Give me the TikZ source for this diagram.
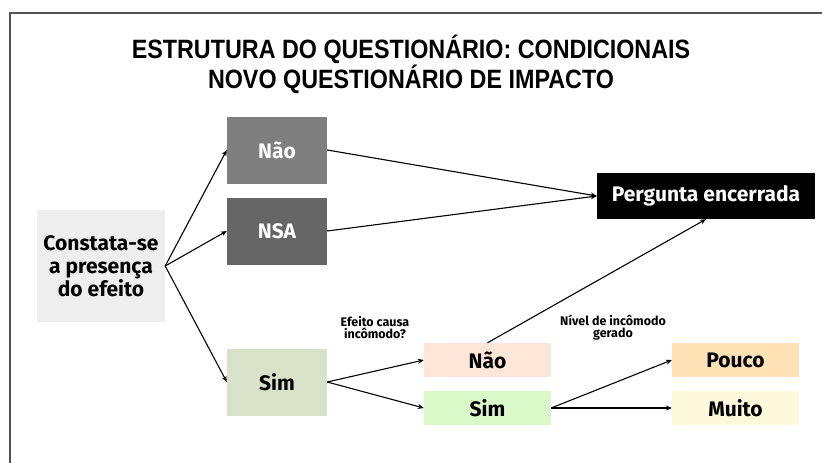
\documentclass[tikz,border=0pt]{standalone}
\usepackage{fontspec}
\setmainfont{Fira Sans}
\newfontfamily\titlefont[FakeStretch=0.88]{Liberation Sans}
\usetikzlibrary{arrows.meta,positioning}
\definecolor{FrameGray}{RGB}{85,85,85}
\definecolor{BoxGray}{RGB}{238,238,238}
\definecolor{NaoGray}{RGB}{127,127,127}
\definecolor{NsaGray}{RGB}{102,102,102}
\definecolor{SimOlive}{RGB}{216,226,200}
\definecolor{NaoPeach}{RGB}{253,230,216}
\definecolor{SimGreen}{RGB}{217,250,200}
\definecolor{PoucoOrange}{RGB}{254,226,180}
\definecolor{MuitoYellow}{RGB}{255,249,219}
\begin{document}
\begin{tikzpicture}[x=1pt,y=-1pt,
    opt/.style={minimum width=100pt,minimum height=67pt,inner sep=0pt,
                font=\fontsize{21}{23}\selectfont\bfseries},
    sub/.style={minimum width=127pt,minimum height=34pt,inner sep=0pt,
                font=\fontsize{21}{23}\selectfont\bfseries},
    note/.style={font=\fontsize{12.5}{12}\selectfont\bfseries,align=center},
    arrow/.style={-{Stealth[length=6pt,width=5pt]},line width=1.1pt,black}]

    \useasboundingbox (0,0) rectangle (822,463);
    \fill[white] (0,0) rectangle (822,463);
    \draw[FrameGray,line width=2pt] (10,463) -- (10,13) -- (822,13);

    % title
    \node[font=\titlefont\fontsize{26.5}{28}\selectfont\bfseries] (title1) at (411,49)
      {ESTRUTURA DO QUESTIONÁRIO: CONDICIONAIS};
    \node[font=\titlefont\fontsize{26.5}{28}\selectfont\bfseries] (title2) at (411,79)
      {NOVO QUESTIONÁRIO DE IMPACTO};

    \node[fill=BoxGray,minimum width=128pt,minimum height=112pt,inner sep=0pt,
          font=\fontsize{21}{23}\selectfont\bfseries,align=center] (efeito) at (101,266)
          {Constata-se\\a presença\\do efeito};

    \node[opt,fill=NaoGray,text=white] (nao) at (277,150) {Não};
    \node[opt,fill=NsaGray,text=white] (nsa) at (277,231) {NSA};
    \node[opt,fill=SimOlive] (sim) at (277,382) {Sim};

    \node[fill=black,text=white,minimum width=218pt,minimum height=46pt,inner sep=0pt,
          font=\fontsize{21}{23}\selectfont\bfseries] (fim) at (706,196) {Pergunta encerrada};

    \node[sub,fill=NaoPeach] (nao2) at (487.5,360) {Não};
    \node[sub,fill=SimGreen] (sim2) at (487.5,408) {Sim};
    \node[sub,fill=PoucoOrange] (pouco) at (735.5,360) {Pouco};
    \node[sub,fill=MuitoYellow] (muito) at (735.5,408) {Muito};

    \node[note] (q1) at (375,328) {Efeito causa\\incômodo?};
    \node[note] (q2) at (613,328) {Nível de incômodo\\gerado};

    \foreach \to in {nao,nsa,sim}
      \draw[arrow] (efeito.east) -- (\to.west);
    \foreach \from in {nao,nsa}
      \draw[arrow] (\from.east) -- (fim.west);
    \draw[arrow] (nao2.north) -- (fim.south);
    \foreach \to in {nao2,sim2}
      \draw[arrow] (sim.east) -- (\to.west);
    \foreach \to in {pouco,muito}
      \draw[arrow] (sim2.east) -- (\to.west);
\end{tikzpicture}
\end{document}
